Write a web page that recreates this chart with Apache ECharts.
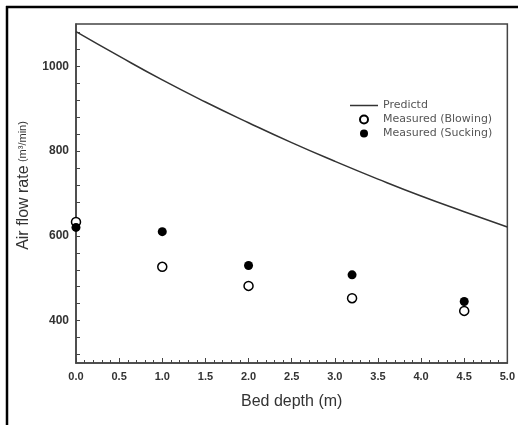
<!DOCTYPE html>
<html>
<head>
<meta charset="utf-8">
<script src="https://cdn.jsdelivr.net/npm/echarts@6/dist/echarts.min.js"></script>
<style>
  html, body { margin: 0; padding: 0; background: #fff; }
  #chart { width: 518px; height: 425px; }
</style>
</head>
<body>
<div id="chart"></div>
<script>
// data
var depthCurve = [0, 0.5, 1.0, 1.5, 2.0, 2.5, 3.0, 3.5, 4.0, 4.5, 5.0];
var predicted = [1082, 1024, 968, 916, 867, 820, 776, 734, 694, 657, 621];

var depthMeasured = [0, 1.0, 2.0, 3.2, 4.5];
var blowing = [633, 527, 482, 453, 423];
var sucking = [620, 610, 530, 508, 445];

var seriesNames = ['Predictd', 'Measured (Blowing)', 'Measured (Sucking)'];

// y axis: labels every 200, ticks every 40
var yLabelValues = [400, 600, 800, 1000];
var yTickValues = [320, 360, 400, 440, 480, 520, 560, 600, 640, 680, 720, 760,
    800, 840, 880, 920, 960, 1000, 1040, 1080];

function pairs(xs, ys) {
    var out = [];
    for (var i = 0; i < xs.length; i++) {
        out.push([xs[i], ys[i]]);
    }
    return out;
}

var chart = echarts.init(document.getElementById('chart'));

var axisColor = '#444';
var fontAxis = 'Liberation Sans, Arial';

chart.setOption({
    animation: false,
    backgroundColor: '#fff',
    grid: {
        left: 76, top: 24, width: 432, height: 339,
        show: true, borderColor: axisColor, borderWidth: 1.5
    },
    legend: {
        orient: 'vertical',
        left: 350, top: 100,
        padding: 0,
        itemWidth: 28, itemHeight: 8, itemGap: 3,
        textStyle: { color: '#555', fontSize: 11, lineHeight: 11, fontFamily: 'DejaVu Sans' },
        data: [
            { name: seriesNames[0], icon: 'path://M0,0L28,0L28,1.5L0,1.5Z' },
            { name: seriesNames[1] },
            { name: seriesNames[2] }
        ]
    },
    xAxis: {
        type: 'value',
        min: 0, max: 5, interval: 0.5,
        name: 'Bed depth (m)',
        nameLocation: 'middle',
        nameGap: 31,
        nameTextStyle: { color: '#333', fontSize: 16, fontFamily: fontAxis },
        splitLine: { show: false },
        axisLine: { lineStyle: { color: axisColor, width: 1.5 } },
        axisTick: { inside: true, length: 5, lineStyle: { color: axisColor } },
        minorTick: { show: true, splitNumber: 5, length: 3, lineStyle: { color: axisColor } },
        axisLabel: {
            margin: 8, color: '#333', fontSize: 11, fontWeight: 'bold', fontFamily: fontAxis,
            formatter: function (v) { return v.toFixed(1); }
        }
    },
    yAxis: {
        type: 'value',
        min: 300, max: 1100,
        name: '{big|Air flow rate} {small|(m³/min)}',
        nameLocation: 'middle',
        nameGap: 36,
        nameTextStyle: {
            color: '#333',
            padding: [0, 0, 0, 16],
            rich: {
                big: { fontSize: 16, fontFamily: fontAxis, color: '#333' },
                small: { fontSize: 11, fontFamily: fontAxis, color: '#333' }
            }
        },
        splitLine: { show: false },
        axisLine: { lineStyle: { color: axisColor, width: 1.5 } },
        axisTick: { inside: true, length: 4, customValues: yTickValues, lineStyle: { color: axisColor } },
        axisLabel: {
            margin: 7, color: '#333', fontSize: 12, fontWeight: 'bold', fontFamily: fontAxis,
            customValues: yLabelValues,
            formatter: function (v) { return String(v); }
        }
    },
    series: [
        {
            name: seriesNames[0],
            type: 'line',
            data: pairs(depthCurve, predicted),
            smooth: true,
            symbol: 'none',
            lineStyle: { color: '#333', width: 1.5 },
            itemStyle: { color: '#333' }
        },
        {
            name: seriesNames[1],
            type: 'scatter',
            data: pairs(depthMeasured, blowing),
            symbol: 'circle',
            symbolSize: 9,
            itemStyle: { color: '#fff', borderColor: '#000', borderWidth: 1.5, opacity: 1 }
        },
        {
            name: seriesNames[2],
            type: 'scatter',
            data: pairs(depthMeasured, sucking),
            symbol: 'circle',
            symbolSize: 9,
            itemStyle: { color: '#000', opacity: 1 }
        }
    ],
    graphic: [
        { type: 'line', shape: { x1: 6, y1: 7, x2: 518, y2: 7 }, style: { stroke: '#000', lineWidth: 2.5 } },
        { type: 'line', shape: { x1: 7, y1: 6, x2: 7, y2: 425 }, style: { stroke: '#000', lineWidth: 2.5 } }
    ]
});
</script>
</body>
</html>
